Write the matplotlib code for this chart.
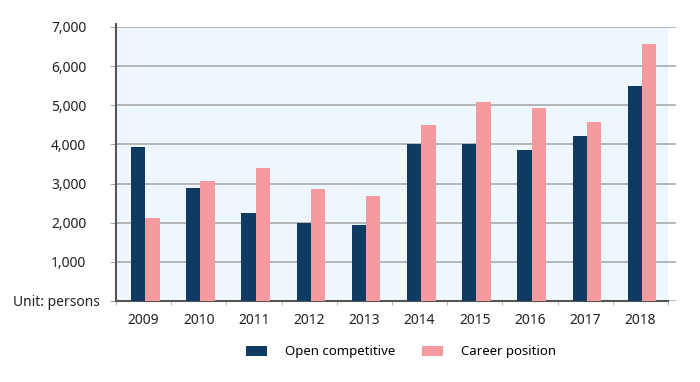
import numpy as np
import matplotlib.pyplot as plt
from matplotlib.ticker import FuncFormatter, FixedLocator

# data
years = ["2009", "2010", "2011", "2012", "2013", "2014", "2015", "2016", "2017", "2018"]
open_competitive = [3930, 2890, 2240, 1990, 1940, 4000, 4000, 3855, 4205, 5505]
career_position = [2110, 3055, 3405, 2850, 2670, 4485, 5075, 4935, 4570, 6560]

navy = "#0f3a61"
pink = "#f59a9e"
grid_gray = "#a9a9a9"
spine_gray = "#555555"

plt.rcParams['font.family'] = ['Noto Sans', 'DejaVu Sans']

fig = plt.figure(figsize=(7, 3.82), dpi=100)
ax = fig.add_axes([116 / 700, 1 - 301 / 382, 560 / 700, 274 / 382])

x = np.arange(len(years))
w = 0.26
ax.axvspan(-0.5, 9.5, color="#eef7fd", zorder=0, lw=0)
ax.bar(x - w / 2 + 0.03, open_competitive, width=w, color=navy, zorder=3, label="Open competitive")
ax.bar(x + w / 2 + 0.03, career_position, width=w, color=pink, zorder=3, label="Career position")

ax.set_xlim(-0.5, 9.5 + 8 / 55.2)
ax.set_ylim(0, 7000)
ax.set_yticks(range(0, 7001, 1000))
ax.yaxis.set_major_formatter(FuncFormatter(lambda v, p: "" if v == 0 else f"{int(v):,}"))
ax.yaxis.grid(True, color=grid_gray, lw=1.2, zorder=1)
ax.set_axisbelow(True)

ax.set_xticks(x)
ax.set_xticklabels(years)
ax.xaxis.set_minor_locator(FixedLocator(np.arange(-0.5, 10, 1.0)))
ax.tick_params(axis="x", which="major", length=0, pad=9, labelsize=10, colors="#222222")
ax.tick_params(axis="x", which="minor", length=3, color=grid_gray)
ax.tick_params(axis="y", length=4.3, color=grid_gray, pad=17, labelsize=10, labelcolor="#222222")

for s in ["top", "right"]:
    ax.spines[s].set_visible(False)
ax.spines["left"].set_color(spine_gray)
ax.spines["left"].set_linewidth(1.5)
ax.spines["bottom"].set_color(spine_gray)
ax.spines["bottom"].set_linewidth(1.5)
ax.spines["bottom"].set_bounds(-0.5, 9.5)
ax.spines["left"].set_bounds(0, 7080)

fig.text(100 / 700, 1 - 303 / 382, "Unit: persons", ha="right", va="center", fontsize=10, color="#222222")

fig.legend(loc="center", bbox_to_anchor=(401 / 700, 1 - 352 / 382), ncol=2, frameon=False,
           fontsize=9.5, handlelength=1.6, handleheight=0.7, handletextpad=1.35, columnspacing=2.0)

fig.savefig("out.png", dpi=100)
